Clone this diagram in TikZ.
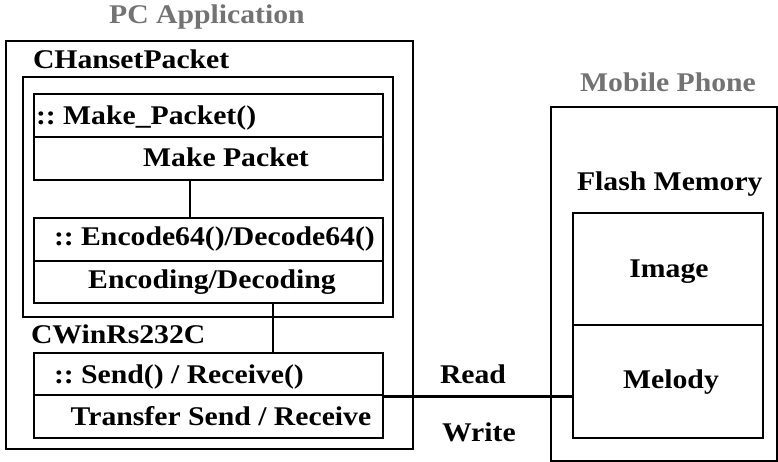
\documentclass[tikz,border=0pt]{standalone}
\usepackage{fontspec}
\setmainfont{Liberation Serif}[FakeStretch=1.1]
\begin{document}
\begin{tikzpicture}[x=1pt,y=-1pt,
  every node/.style={inner sep=0pt,outer sep=0pt},
  frame/.style={draw,line width=1.2pt,anchor=north west},
  lbl/.style={font=\fontsize{27}{30}\selectfont\bfseries},
  ttl/.style={font=\fontsize{27}{30}\selectfont\bfseries,text=black!55},
  link/.style={line width=1.2pt},
  wire/.style={line width=3pt}]
\useasboundingbox (0,0) rectangle (778,462);

% PC application and its classes
\node[frame,minimum width=407pt,minimum height=408pt] (pc) at (6,41) {};
\node[frame,minimum width=370pt,minimum height=240pt] (hp) at (23,77) {};
\node[frame,minimum width=349pt,minimum height=43pt] (mp1) at (34,94) {};
\node[frame,minimum width=349pt,minimum height=43pt] (mp2) at (34,137) {};
\node[frame,minimum width=349pt,minimum height=43pt] (ed1) at (34,218) {};
\node[frame,minimum width=349pt,minimum height=42pt] (ed2) at (34,261) {};
\node[frame,minimum width=349pt,minimum height=42pt] (sr1) at (34,353) {};
\node[frame,minimum width=349pt,minimum height=43pt] (sr2) at (34,395) {};

\node[ttl] (tpc) at (207,17) {PC Application};
\node[lbl,anchor=west] (thp) at (33,59) {CHansetPacket};
\node[lbl,anchor=west] (tmp1) at (36,118) {::~Make\_Packet()};
\node[lbl] (tmp2) at (226,157) {Make Packet};
\node[lbl,anchor=west] (ted1) at (54,239) {::~Encode64()/Decode64()};
\node[lbl] (ted2) at (212,282) {Encoding/Decoding};
\node[lbl,anchor=west] (tcw) at (31,334) {CWinRs232C};
\node[lbl,anchor=west] (tsr1) at (54,377) {::~Send() / Receive()};
\node[lbl] (tsr2) at (221,416) {Transfer Send / Receive};

% links between the class rows
\coordinate (xa) at (190,0);
\coordinate (xb) at (273,0);
\draw[link] (mp2.south -| xa) -- (ed1.north -| xa);
\draw[link] (ed2.south -| xb) -- (sr1.north -| xb);

% mobile phone side
\node[frame,minimum width=226pt,minimum height=354pt] (mob) at (551,107) {};
\node[frame,minimum width=190pt,minimum height=112pt] (img) at (573,213) {};
\node[frame,minimum width=190pt,minimum height=113pt] (mel) at (573,325) {};
\node[ttl] (tmob) at (668,82) {Mobile Phone};
\node[lbl,anchor=west] (tfm) at (577,184) {Flash Memory};
\node[lbl] (timg) at (669,272) {Image};
\node[lbl] (tmel) at (671,382) {Melody};

% serial line between PC and phone
\coordinate (yw) at (0,396);
\draw[wire] (sr2.east |- yw) -- (mel.west |- yw);
\node[lbl,anchor=west] (trd) at (440,374) {Read};
\node[lbl,anchor=west] (twr) at (442,432) {Write};
\end{tikzpicture}
\end{document}
